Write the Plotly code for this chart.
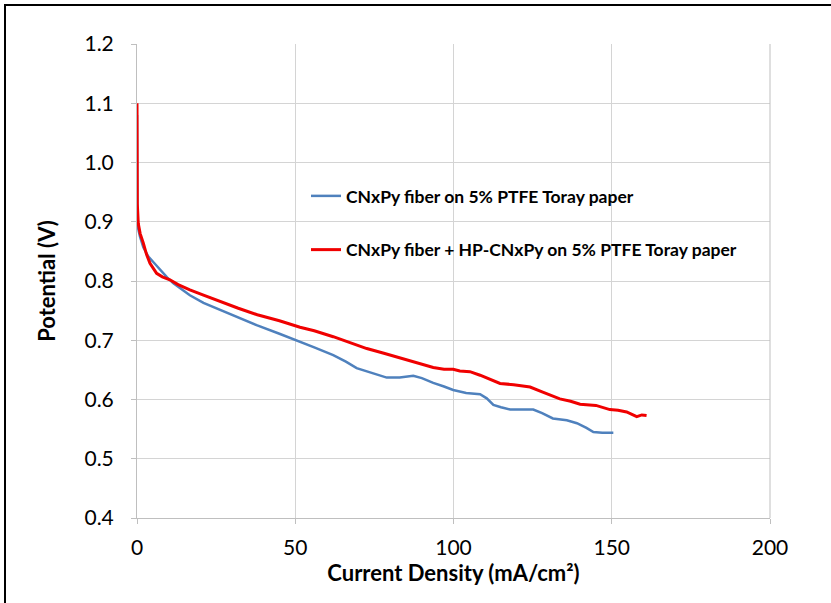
import plotly.graph_objects as go

# ---- data ----
blue_name = "CNxPy fiber on 5% PTFE Toray paper"
red_name = "CNxPy fiber + HP-CNxPy on 5% PTFE Toray paper"

blue_x = [0, 0, 0.1, 0.3, 0.95, 2, 3.6, 5.5, 7.3, 9.5, 11.5, 14, 16.7, 21, 26.2, 32, 38, 45,
          51.5, 56, 62, 66, 69.4, 72.6, 76, 78.9, 83, 87.3, 90, 93.6, 97, 99.9, 104, 108.4,
          110.5, 112.6, 115, 117.9, 122, 125.2, 128, 131.4, 135.8, 139, 142, 144.2, 147, 150.5]
blue_y = [1.08, 0.95, 0.91, 0.89, 0.875, 0.857, 0.841, 0.83, 0.819, 0.806, 0.796, 0.786, 0.776,
          0.763, 0.751, 0.738, 0.725, 0.711, 0.698, 0.688, 0.675, 0.664, 0.653, 0.648, 0.642,
          0.637, 0.637, 0.640, 0.636, 0.628, 0.622, 0.616, 0.611, 0.609, 0.602, 0.591, 0.587,
          0.583, 0.583, 0.583, 0.577, 0.568, 0.565, 0.56, 0.552, 0.545, 0.544, 0.544]

red_x = [0, 0, 0.1, 0.4, 1, 2, 3, 4.1, 6.2, 8, 10.4, 13, 16.7, 21, 26.2, 32, 38, 45, 51.5, 56,
         62, 67, 72.6, 78, 83.1, 88, 93.6, 97, 99.9, 102, 105.2, 108.4, 111, 114.7, 119, 124.2,
         128, 133.6, 137, 140, 145, 149.4, 152, 154.7, 157.9, 159.5, 161]
red_y = [1.1, 1.0, 0.93, 0.897, 0.88, 0.864, 0.845, 0.83, 0.813, 0.807, 0.802, 0.794, 0.785,
         0.776, 0.765, 0.754, 0.743, 0.733, 0.722, 0.716, 0.706, 0.696, 0.686, 0.678, 0.670,
         0.662, 0.654, 0.651, 0.651, 0.648, 0.647, 0.641, 0.635, 0.627, 0.625, 0.621, 0.613,
         0.601, 0.597, 0.592, 0.590, 0.583, 0.582, 0.579, 0.571, 0.574, 0.573]

x_ticks = [0, 50, 100, 150, 200]
y_ticks = [0.4, 0.5, 0.6, 0.7, 0.8, 0.9, 1.0, 1.1, 1.2]

FONT = "Lato, 'Open Sans', sans-serif"

fig = go.Figure()
fig.add_trace(go.Scatter(x=blue_x, y=blue_y, mode="lines", name=blue_name,
                         legendgroup="a", line=dict(color="#4f81bd", width=2.5)))
fig.add_trace(go.Scatter(x=red_x, y=red_y, mode="lines", name=red_name,
                         legendgroup="b", line=dict(color="#f00000", width=3)))

W, H = 831, 603
L, R, T, B = 137, 61, 44, 85
pw, ph = W - L - R, H - T - B

def px_to_paper_x(p):
    return (p - L) / pw

def py_to_paper_y(p):
    return (H - B - p) / ph

fig.update_layout(
    width=W, height=H,
    margin=dict(l=L, r=R, t=T, b=B),
    paper_bgcolor="white", plot_bgcolor="white",
    font=dict(family=FONT, color="black"),
    showlegend=True,
    legend=dict(x=px_to_paper_x(306), y=py_to_paper_y(178), xanchor="left", yanchor="top",
                bgcolor="rgba(0,0,0,0)", font=dict(size=17.5, family=FONT, color="black", weight="bold"),
                tracegroupgap=28, itemwidth=30),
    xaxis=dict(range=[0, 200], tickvals=x_ticks, showgrid=True, gridcolor="#d4d4d4", gridwidth=1,
               showline=True, linecolor="#bfbfbf", linewidth=1, ticks="outside", ticklen=5,
               tickcolor="#bfbfbf", tickfont=dict(size=21, family=FONT), zeroline=False,
               ticklabelstandoff=6,
               title=dict(text="Current Density (mA/cm²)", font=dict(size=22, family=FONT, weight="bold"),
                          standoff=3)),
    yaxis=dict(range=[0.4, 1.2], tickvals=y_ticks, tickformat=".1f", showgrid=True, gridcolor="#d4d4d4",
               gridwidth=1, showline=True, linecolor="#bfbfbf", linewidth=1, ticks="outside", ticklen=5,
               tickcolor="#bfbfbf", tickfont=dict(size=21, family=FONT), zeroline=False,
               ticklabelstandoff=13,
               title=dict(text="Potential (V)", font=dict(size=22, family=FONT, weight="bold"),
                          standoff=22)),
)

# right border of plot area (gridline at 200 in reference)
fig.add_shape(type="line", xref="paper", yref="paper", x0=1, x1=1, y0=0, y1=1,
              line=dict(color="#bfbfbf", width=1))
# outer black frame (left and top edges visible)
fig.add_shape(type="line", xref="paper", yref="paper",
              x0=px_to_paper_x(5), x1=px_to_paper_x(5), y0=py_to_paper_y(4), y1=py_to_paper_y(610),
              line=dict(color="black", width=2))
fig.add_shape(type="line", xref="paper", yref="paper",
              x0=px_to_paper_x(4), x1=px_to_paper_x(840), y0=py_to_paper_y(5), y1=py_to_paper_y(5),
              line=dict(color="black", width=2))

fig.write_html("out.html", config={"displayModeBar": False},
               post_script="document.body.style.margin='0';document.body.style.overflow='hidden';")
